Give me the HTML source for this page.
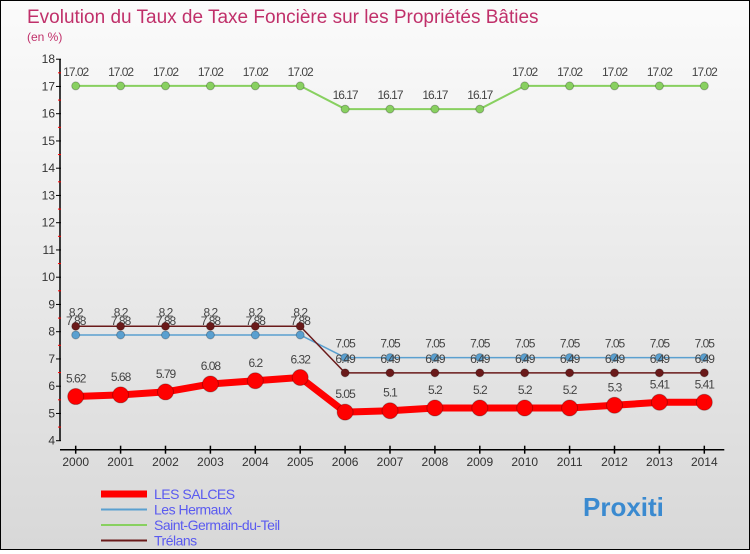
<!DOCTYPE html>
<html><head><meta charset="utf-8"><style>
body{margin:0;width:750px;height:550px;overflow:hidden;font-family:"Liberation Sans",sans-serif}
#wrap{position:relative;width:748px;height:548px;border:1px solid #000;background:linear-gradient(#fbfbfb,#d8d8d8)}
</style></head><body>
<div id="wrap">
<svg id="c" width="748" height="548"></svg>
</div>
<script>
const years=[2000,2001,2002,2003,2004,2005,2006,2007,2008,2009,2010,2011,2012,2013,2014];
const salces=[5.62,5.68,5.79,6.08,6.2,6.32,5.05,5.1,5.2,5.2,5.2,5.2,5.3,5.41,5.41];
const hermaux=[7.88,7.88,7.88,7.88,7.88,7.88,7.05,7.05,7.05,7.05,7.05,7.05,7.05,7.05,7.05];
const sgdt=[17.02,17.02,17.02,17.02,17.02,17.02,16.17,16.17,16.17,16.17,17.02,17.02,17.02,17.02,17.02];
const trelans=[8.2,8.2,8.2,8.2,8.2,8.2,6.49,6.49,6.49,6.49,6.49,6.49,6.49,6.49,6.49];
const yTicks=[4,5,6,7,8,9,10,11,12,13,14,15,16,17,18];
const NS='http://www.w3.org/2000/svg';
const svg=document.getElementById('c');
const X=i=>74.7+i*44.9, Y=v=>439.7-(v-4)*27.25;
function el(t,a,txt){const e=document.createElementNS(NS,t);for(const k in a)e.setAttribute(k,a[k]);if(txt!=null)e.textContent=txt;svg.appendChild(e);return e;}
let e;
e=el('text',{x:26,y:22,fill:'#c0306a','font-size':19},'Evolution du Taux de Taxe Foncière sur les Propriétés Bâties');


e=el('text',{x:26,y:40,fill:'#c0306a','font-size':12},'(en %)');


e=el('line',{x1:59,y1:Y(18),x2:59,y2:Y(4),stroke:'#000','stroke-width':1.5});


e=el('line',{x1:59,y1:Y(4)+9,x2:X(14)+20,y2:Y(4)+9,stroke:'#000','stroke-width':1.5});


yTicks.forEach(v=>{
 e=el('line',{x1:55,y1:Y(v),x2:60,y2:Y(v),stroke:'#000'});
 
 
 if(v<18){e=el('line',{x1:57,y1:Y(v+0.5),x2:60,y2:Y(v+0.5),stroke:'#f00'});
 
 }
 e=el('text',{x:54,y:Y(v)+4,'text-anchor':'end','font-size':12,fill:'#333'},v);
 
 
});
years.forEach((yr,i)=>{
 e=el('line',{x1:X(i),y1:Y(4)+5,x2:X(i),y2:Y(4)+13,stroke:'#000','stroke-width':1.5});
 
 
 e=el('text',{x:X(i),y:465,'text-anchor':'middle','font-size':12,fill:'#333'},yr);
 
 
});
function series(data,color,w,r,name,dy){
 e=el('polyline',{points:data.map((v,i)=>X(i)+','+Y(v)).join(' '),fill:'none',stroke:color,'stroke-width':w,'stroke-linejoin':'round'});
 
 
 data.forEach((v,i)=>{
  e=el('circle',{cx:X(i),cy:Y(v),r:r,fill:color,stroke:'rgba(0,0,0,0.25)'});
  
  
  e=el('text',{x:X(i),y:Y(v)-dy,'text-anchor':'middle','font-size':12,fill:'#444','letter-spacing':'-1'},v);
  
  
 });
}
series(sgdt,'#88d060',2,4,'saint-germain-du-teil',10);
series(hermaux,'#5aa0d0',1.5,4,'les-hermaux',10);
series(trelans,'#6a1a1a',1.5,4,'trelans',10);
series(salces,'#ff0000',7,8,'les-salces',14);
const leg=[['LES SALCES','#ff0000',7],['Les Hermaux','#5aa0d0',2],['Saint-Germain-du-Teil','#88d060',2],['Trélans','#6a1a1a',2]];
leg.forEach((l,i)=>{
 const y=493+i*15.5;
 e=el('line',{x1:100,y1:y,x2:146,y2:y,stroke:l[1],'stroke-width':l[2]});
 
 
 e=el('text',{x:153,y:y+5,'font-size':14,fill:'#5a5af0','letter-spacing':'-0.5'},l[0]);
 
 
});
e=el('text',{x:582,y:515,'font-size':26,'font-weight':'bold',fill:'#3a8ad0'},'Proxiti');


</script>
</body></html>
